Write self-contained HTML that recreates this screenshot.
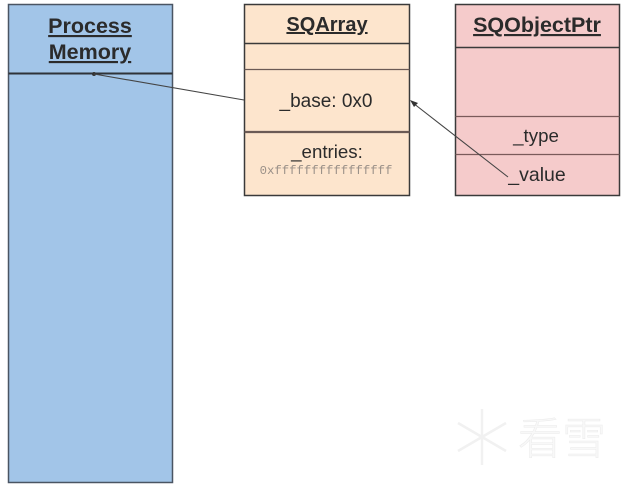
<!DOCTYPE html>
<html><head><meta charset="utf-8"><style>
html,body{margin:0;padding:0;background:#fff;}
svg{display:block;}
</style></head><body>
<svg width="627" height="490" viewBox="0 0 627 490" xmlns="http://www.w3.org/2000/svg">
<!-- Process Memory -->
<rect x="8.5" y="4.5" width="164" height="478" fill="#a2c5e8" stroke="#4a5563" stroke-width="1.5"/>
<line x1="8.5" y1="73.5" x2="172.5" y2="73.5" stroke="#2f3338" stroke-width="2"/>
<g font-family="Liberation Sans, Arial, sans-serif" font-weight="bold" font-size="21.5" fill="#2b2b2b" text-anchor="middle">
<text x="90" y="33" text-decoration="underline">Process</text>
<text x="90" y="59" text-decoration="underline">Memory</text>
</g>

<!-- SQArray -->
<rect x="244.5" y="4.5" width="165" height="191" fill="#fde5cd" stroke="#3a3a3a" stroke-width="1.5"/>
<line x1="244.5" y1="43.5" x2="409.5" y2="43.5" stroke="#3a3a3a" stroke-width="1.5"/>
<line x1="244.5" y1="69.5" x2="409.5" y2="69.5" stroke="#6b5a55" stroke-width="1.2"/>
<line x1="244.5" y1="132" x2="409.5" y2="132" stroke="#6b5a55" stroke-width="2.2"/>
<g font-family="Liberation Sans, Arial, sans-serif" fill="#2b2b2b" text-anchor="middle">
<text x="327" y="31" font-size="20" font-weight="bold" text-decoration="underline">SQArray</text>
<text x="326" y="107" font-size="19">_base: 0x0</text>
<text x="327" y="158" font-size="18.7">_entries:</text>
</g>
<text x="326" y="174" font-family="Liberation Mono, monospace" font-size="12.3" fill="#9a9088" text-anchor="middle">0xffffffffffffffff</text>

<!-- SQObjectPtr -->
<rect x="455.5" y="4.5" width="164" height="191" fill="#f5cbcb" stroke="#3a3a3a" stroke-width="1.5"/>
<line x1="455.5" y1="47.5" x2="619.5" y2="47.5" stroke="#3a3a3a" stroke-width="1.5"/>
<line x1="455.5" y1="116.5" x2="619.5" y2="116.5" stroke="#7a5a5a" stroke-width="1.2"/>
<line x1="455.5" y1="154.5" x2="619.5" y2="154.5" stroke="#7a5a5a" stroke-width="1.2"/>
<g font-family="Liberation Sans, Arial, sans-serif" fill="#2b2b2b" text-anchor="middle">
<text x="537" y="32" font-size="21.5" font-weight="bold" text-decoration="underline">SQObjectPtr</text>
<text x="536" y="142" font-size="18.7">_type</text>
<text x="537" y="181" font-size="19.5">_value</text>
</g>

<!-- connectors -->
<circle cx="94" cy="74" r="2" fill="#333"/>
<line x1="94" y1="74" x2="244" y2="100" stroke="#444" stroke-width="1.1"/>
<line x1="508" y1="177" x2="413" y2="103" stroke="#444" stroke-width="1.1"/>
<polygon points="410,100 418,103 414,107" fill="#333"/>

<!-- watermark -->
<g stroke="#f1f1f1" stroke-width="2.5" fill="none">
<line x1="482" y1="409" x2="482" y2="465"/>
<line x1="458" y1="423" x2="506" y2="451"/>
<line x1="458" y1="451" x2="506" y2="423"/>
</g>
<text x="518" y="454" font-family="Noto Sans CJK SC, WenQuanYi Zen Hei, sans-serif" font-size="44" font-weight="300" fill="#f8f8f8" stroke="#ebebeb" stroke-width="0.5">看雪</text>
</svg>
</body></html>
